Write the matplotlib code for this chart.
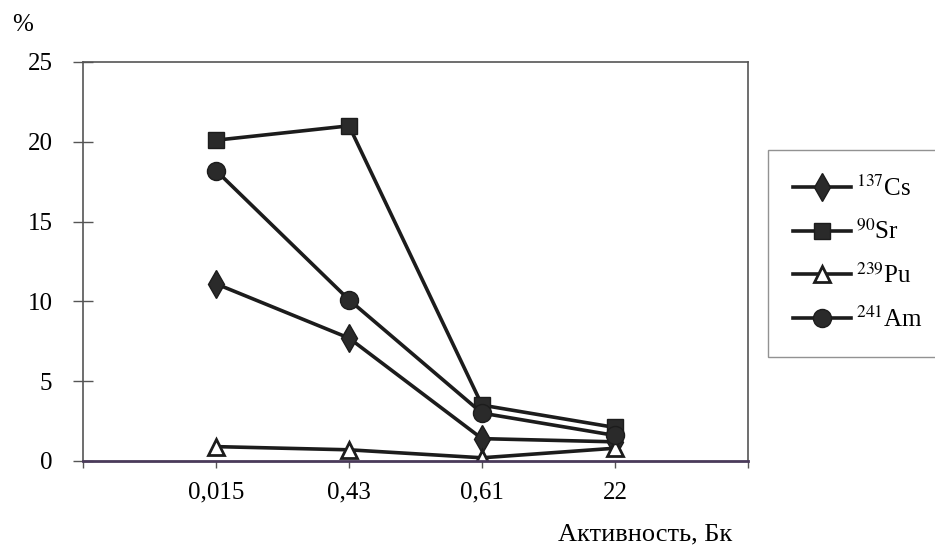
import matplotlib
matplotlib.use("Agg")
import matplotlib.pyplot as plt

plt.rcParams["font.family"] = ["Liberation Serif", "DejaVu Serif"]
plt.rcParams["mathtext.fontset"] = "stix"

categories = ["0,015", "0,43", "0,61", "22"]
cs137 = [11.1, 7.7, 1.4, 1.2]
sr90 = [20.1, 21.0, 3.5, 2.1]
pu239 = [0.9, 0.7, 0.2, 0.8]
am241 = [18.2, 10.1, 3.0, 1.6]
y_ticks = [0, 5, 10, 15, 20, 25]

ink = "#1c1c1c"

fig = plt.figure(figsize=(9.35, 5.56), dpi=100)
ax = fig.add_axes([0.0888, 0.1709, 0.7112, 0.7176])

x = list(range(1, len(categories) + 1))
common = dict(color=ink, linewidth=2.6, markeredgecolor=ink)
ax.plot(x, cs137, marker="d", markersize=14, markerfacecolor="#2a2a2a",
        label=r"$^{137}$Cs", **common)
ax.plot(x, sr90, marker="s", markersize=11, markerfacecolor="#2a2a2a",
        label=r"$^{90}$Sr", **common)
ax.plot(x, pu239, marker="^", markersize=11, markerfacecolor="white",
        markeredgewidth=2, label=r"$^{239}$Pu", **common)
ax.plot(x, am241, marker="o", markersize=13, markerfacecolor="#2a2a2a",
        label=r"$^{241}$Am", **common)

ax.set_xlim(0, len(categories) + 1)
ax.set_ylim(0, 25)
ax.set_xticks(range(0, len(categories) + 2))
ax.set_xticklabels([""] + categories + [""], fontsize=18)
ax.set_yticks(y_ticks)
ax.set_yticklabels([str(v) for v in y_ticks], fontsize=18)
ax.tick_params(axis="y", direction="inout", length=14, width=1, color="#555555", pad=15)
ax.tick_params(axis="x", direction="out", length=5, width=1, color="#555555", pad=10)

for side in ["top", "right", "left"]:
    ax.spines[side].set_color("#555555")
    ax.spines[side].set_linewidth(1.2)
ax.spines["bottom"].set_color("#4a3a5a")
ax.spines["bottom"].set_linewidth(2)

fig.text(0.013, 0.955, "%", fontsize=18, ha="left", va="center")
fig.text(0.69, 0.038, "Активность, Бк", fontsize=19, ha="center", va="center")

leg = ax.legend(loc="upper left", bbox_to_anchor=(1.012, 0.81), fontsize=18,
                frameon=True, fancybox=False, handlelength=2.3, handletextpad=0.2,
                labelspacing=0.75, borderpad=1.0)
leg.get_frame().set_edgecolor("#777777")
leg.get_frame().set_linewidth(1)

fig.savefig("out.png", dpi=100)
